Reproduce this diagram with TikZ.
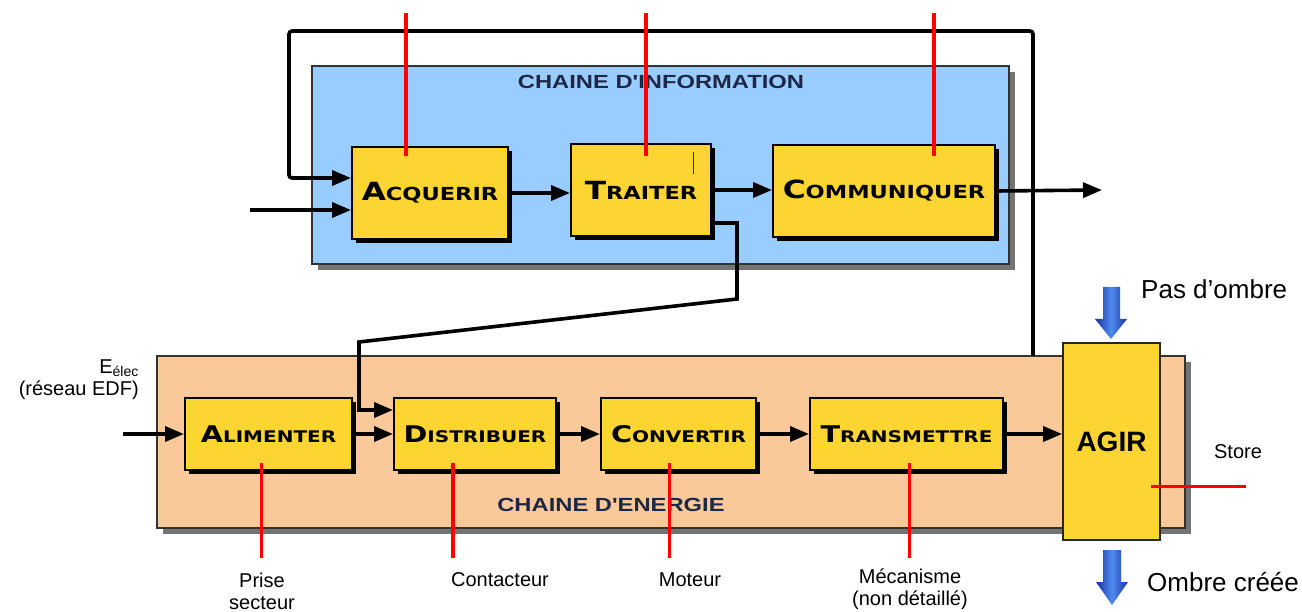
\documentclass[tikz,border=0pt]{standalone}
\usepackage{fontspec}
\setmainfont{Liberation Sans}
\newfontfamily\boxfont{DejaVu Sans}[FakeStretch=1.25]
\newfontfamily\titlefont{Liberation Sans}[FakeStretch=1.25]
\usetikzlibrary{arrows.meta, positioning, shadows}

\definecolor{infoblue}{RGB}{153,204,255}
\definecolor{nrjpeach}{RGB}{250,201,153}
\definecolor{boxyellow}{RGB}{253,213,50}
\definecolor{titlenavy}{RGB}{30,40,70}
\definecolor{arrowblue}{RGB}{20,50,160}
\definecolor{arrowlight}{RGB}{80,140,240}

% fake small capitals for the function boxes
\newcommand{\capword}[2]{{\fontsize{25}{25}\selectfont #1}{\fontsize{18}{18}\selectfont #2}}
\newcommand{\lowcapword}[2]{{\fontsize{23}{23}\selectfont #1}{\fontsize{16}{16}\selectfont #2}}

\begin{document}
\begin{tikzpicture}[
  x=1pt, y=-1pt,
  panel/.style={rectangle, draw=black!80, line width=1.4pt, inner sep=0pt,
    drop shadow={shadow xshift=6pt, shadow yshift=-6pt, fill=black!55, opacity=1}},
  chaintitle/.style={font=\titlefont\bfseries\fontsize{19}{19}\selectfont, text=titlenavy},
  fct/.style={rectangle, draw=black, line width=2pt, fill=boxyellow, inner sep=0pt,
    font=\boxfont\bfseries,
    drop shadow={shadow xshift=4pt, shadow yshift=-4pt, fill=black, opacity=1}},
  flow/.style={line width=3.6pt, -{Triangle[length=19pt,width=15pt]}},
  pointer/.style={red, line width=3.6pt},
  lbl/.style={font=\fontsize{20}{22}\selectfont, align=center, inner sep=0pt},
  biglbl/.style={font=\fontsize{26}{28}\selectfont, anchor=west, inner sep=0pt}
]
  \useasboundingbox (0,0) rectangle (1302,612);

  % chains
  \node[panel, fill=infoblue, minimum width=697pt, minimum height=198pt] (info) at (660.5,165) {};
  \node[chaintitle] (infotitle) at (661,82) {CHAINE D'INFORMATION};
  \node[panel, fill=nrjpeach, minimum width=1028pt, minimum height=172pt] (nrj) at (671,442) {};
  \node[chaintitle] (nrjtitle) at (611,505) {CHAINE D'ENERGIE};

  % information chain
  \node[fct, minimum width=156pt, minimum height=92pt] (ACQ) at (430,193) {\capword{A}{CQUERIR}};
  \node[fct, minimum width=140pt, minimum height=92pt] (TRA) at (641,190) {\capword{T}{RAITER}};
  \node[fct, minimum width=222pt, minimum height=92pt] (COM) at (884,191) {\capword{C}{OMMUNIQUER}};

  % energy chain
  \node[fct, minimum width=167pt, minimum height=72pt] (ALIM) at (268.5,434) {\lowcapword{A}{LIMENTER}};
  \node[fct, minimum width=162pt, minimum height=72pt] (DIST) at (475,434) {\lowcapword{D}{ISTRIBUER}};
  \node[fct, minimum width=155pt, minimum height=72pt] (CONV) at (678.5,434) {\lowcapword{C}{ONVERTIR}};
  \node[fct, minimum width=193pt, minimum height=72pt] (TRANS) at (906.5,434) {\lowcapword{T}{RANSMETTRE}};
  \node[rectangle, draw=black!85, line width=1.8pt, fill=boxyellow, minimum width=97pt, minimum height=197pt,
    font=\bfseries\fontsize{28}{28}\selectfont] (AGIR) at (1111.5,441.5) {AGIR};

  \coordinate (in1) at (250,210);
  \coordinate (in2) at (123,434);
  \coordinate (out) at (1102,190);
  \coordinate (fb) at (1033,356);
  \coordinate (fbcorner) at (289,31);
  \coordinate (cmdbend) at (737,299);
  \coordinate (cmdknee) at (359,342);

  % connectors
  \draw[flow] (in1) -- (in1 -| ACQ.west);
  \draw[flow, rounded corners=3pt] (fb) |- (fbcorner) |- ([yshift=15pt]ACQ.west);
  \draw[flow] (ACQ.east) -- (ACQ.east -| TRA.west);
  \draw[flow] (TRA.east) -- (TRA.east -| COM.west);
  \draw[flow] (COM.east) -- (out);
  \draw[flow] ([yshift=-33pt]TRA.east) -| (cmdbend) -- (cmdknee) |- ([yshift=24pt]DIST.west);
  \draw[flow] (in2) -- (ALIM);
  \draw[flow] (ALIM) -- (DIST);
  \draw[flow] (DIST) -- (CONV);
  \draw[flow] (CONV) -- (TRANS);
  \draw[flow] (TRANS.east) -- (TRANS.east -| AGIR.west);
  \draw[titlenavy, line width=1pt] ([xshift=52pt,yshift=38pt]TRA.center) -- ++(0,22);

  % blue arrows
  \shade[left color=arrowblue, right color=arrowblue, middle color=arrowlight]
    (1103,287) -- (1120,287) -- (1120,319) -- (1127,319) -- (1111,339) -- (1095,319) -- (1103,319) -- cycle;
  \shade[left color=arrowblue, right color=arrowblue, middle color=arrowlight]
    (1103,550) -- (1121,550) -- (1121,582) -- (1128,582) -- (1112,605) -- (1096,582) -- (1103,582) -- cycle;

  % labels
  \node[lbl, anchor=east, align=right] (elec) at (139,380) {E\textsubscript{élec}\\(réseau EDF)};
  \node[lbl] (prise) at (262,591) {Prise\\secteur};
  \node[lbl] (contact) at (500,580) {Contacteur};
  \node[lbl] (moteur) at (690,580) {Moteur};
  \node[lbl] (meca) at (910,589) {Mécanisme\\(non détaillé)};
  \node[lbl] (store) at (1238,452) {Store};
  \node[biglbl] (nopass) at (1141,289) {Pas d’ombre};
  \node[biglbl] (shade) at (1147,582) {Ombre créée};

  % red pointers
  \draw[pointer] ([xshift=-24pt,yshift=37pt]ACQ.center) -- ++(0,-143);
  \draw[pointer] ([xshift=5pt,yshift=34pt]TRA.center) -- ++(0,-143);
  \draw[pointer] ([xshift=50pt,yshift=35pt]COM.center) -- ++(0,-143);
  \draw[pointer] ([xshift=-7pt,yshift=8pt]ALIM.south) -- ++(0,95);
  \draw[pointer] ([xshift=-22pt,yshift=8pt]DIST.south) -- ++(0,95);
  \draw[pointer] ([xshift=-9pt,yshift=8pt]CONV.south) -- ++(0,95);
  \draw[pointer] ([xshift=3pt,yshift=8pt]TRANS.south) -- ++(0,95);
  \draw[pointer] ([xshift=-10pt,yshift=-45pt]AGIR.east) -- ++(95,0);
\end{tikzpicture}
\end{document}
